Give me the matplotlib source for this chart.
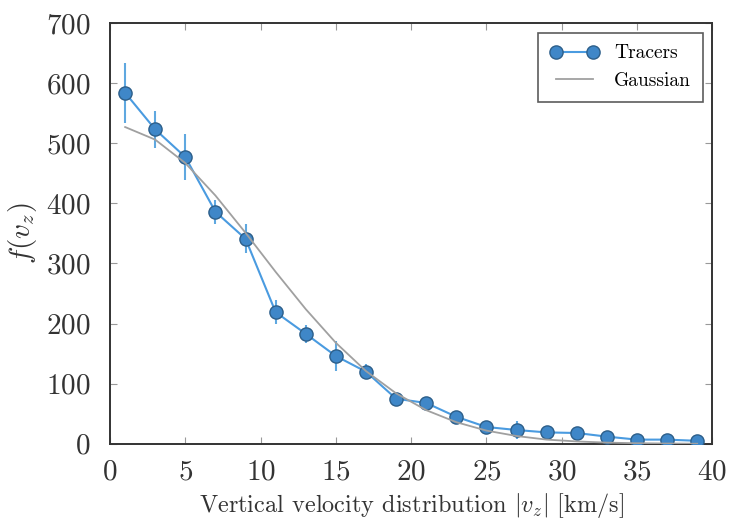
import numpy as np
import matplotlib
matplotlib.use('Agg')
import matplotlib.pyplot as plt

plt.rcParams['font.family'] = 'serif'
plt.rcParams['font.serif'] = ['cmr10', 'DejaVu Serif']
plt.rcParams['mathtext.fontset'] = 'cm'
plt.rcParams['axes.formatter.use_mathtext'] = True

# data
vz = [1, 3, 5, 7, 9, 11, 13, 15, 17, 19, 21, 23, 25, 27, 29, 31, 33, 35, 37, 39]
tracers = [584, 523, 477, 386, 341, 219, 183, 146, 120, 75, 68, 45, 28, 23, 19, 18, 12, 7, 7, 5]
tracers_err = [50, 31, 38, 20, 24, 20, 15, 25, 12, 8, 6, 6, 5, 15, 5, 4, 4, 3, 3, 3]
gauss = [527, 506, 467, 413, 351, 286, 224, 168, 121, 84, 56, 36, 22, 13, 7, 4, 2, 1, 0.5, 0.2]

fig = plt.figure(figsize=(7.29, 5.24), dpi=100)
ax = fig.add_axes([0.151, 0.153, 0.826, 0.803])

ax.errorbar(vz, tracers, yerr=tracers_err, fmt='none', ecolor='#5fa8e0',
            elinewidth=1.5, zorder=2)
ax.plot(vz, tracers, '-o', color='#4a9be0', lw=1.5, ms=9.5,
        markerfacecolor='#3f87c8', markeredgecolor='#2d5f8a', markeredgewidth=1.0,
        label='Tracers', zorder=3)
ax.plot(vz, gauss, '-', color='#a0a0a0', lw=1.3, label='Gaussian', zorder=4)

ax.set_xlim(0, 40)
ax.set_ylim(0, 700)
ax.set_xticks(range(0, 41, 5))
ax.set_yticks(range(0, 701, 100))
ax.tick_params(direction='in', top=True, right=True, labelsize=21,
               length=5, width=0.8, colors='#999999', labelcolor='#333333')
ax.tick_params(axis='y', pad=14)
ax.tick_params(axis='x', pad=11)
for s in ax.spines.values():
    s.set_linewidth(1.4)
    s.set_color('#333333')

ax.set_xlabel(r'Vertical velocity distribution $|v_z|$ [km/s]', fontsize=17.5,
              color='#333333', labelpad=4)
ax.set_ylabel(r'$f(v_z)$', fontsize=21, color='#333333', labelpad=5)

leg = ax.legend(loc='upper right', fontsize=14, fancybox=False, borderpad=0.6,
                handlelength=2.5, numpoints=2)
leg.get_frame().set_edgecolor('#333333')
leg.get_frame().set_linewidth(1.2)

fig.savefig('out.png', dpi=100)
